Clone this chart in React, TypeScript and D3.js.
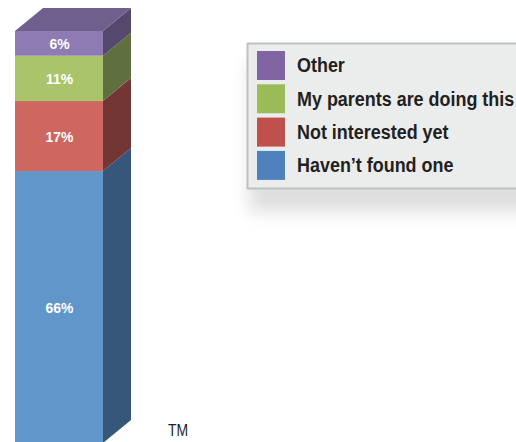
import * as d3 from "d3";

const categories = ["Haven\u2019t found one", "Not interested yet", "My parents are doing this", "Other"];
const values = [66, 17, 11, 6];
const frontColors = ["#6096c9", "#cd675f", "#a9c46b", "#8e7bb4"];
const sideColors = ["#36567a", "#733634", "#5f6f3f", "#54486c"];
const legendColors = ["#4f81bd", "#c0504d", "#9bbb59", "#8064a2"];
const topColor = "#6f5f8c";

const width = 516;
const height = 442;
const font = "'Liberation Sans', Arial, Helvetica, sans-serif";

const App = () => {
  const x0 = 15;
  const barW = 88;
  const dx = 28;
  const dy = 23;
  const y = d3.scaleLinear([0, 100], [443, 31]);

  const stacked = values.map((v, i) => {
    const start = d3.sum(values.slice(0, i));
    return { v, i, y0: y(start), y1: y(start + v) };
  });

  const legendOrder = [3, 2, 1, 0];

  return (
    <svg
      width={width}
      height={height}
      style={{ position: "absolute", left: 0, top: 0, background: "#fff" }}
    >
      <defs>
        <filter id="shadow" x="-20%" y="-20%" width="140%" height="160%">
          <feGaussianBlur stdDeviation="9" />
        </filter>
      </defs>
      {stacked.map((d) => (
        <g key={d.i}>
          <rect x={x0} y={d.y1} width={barW} height={d.y0 - d.y1} fill={frontColors[d.i]} />
          <polygon
            points={[
              [x0 + barW, d.y0],
              [x0 + barW + dx, d.y0 - dy],
              [x0 + barW + dx, d.y1 - dy],
              [x0 + barW, d.y1],
            ].join(" ")}
            fill={sideColors[d.i]}
          />
          <text
            transform={`translate(${x0 + barW / 2 + 0.5}, ${(d.y0 + d.y1) / 2 + 6}) scale(0.9, 1)`}
            textAnchor="middle"
            fill="#fff"
            fontFamily={font}
            fontWeight="bold"
            fontSize={15.5}
          >
            {d.v}%
          </text>
        </g>
      ))}
      <polygon
        points={[
          [x0, y(100)],
          [x0 + barW, y(100)],
          [x0 + barW + dx, y(100) - dy],
          [x0 + dx, y(100) - dy],
        ].join(" ")}
        fill={topColor}
      />

      <rect x={249} y={62} width={290} height={150} fill="#000" opacity={0.13} filter="url(#shadow)" />
      <rect x={247.5} y={43.5} width={290} height={145} fill="#ebecec" stroke="#bfc0c1" strokeWidth={2} />
      {legendOrder.map((i, k) => (
        <g key={i} transform={`translate(257, ${51 + k * 33.3})`}>
          <rect width={28} height={29} fill={legendColors[i]} />
          <text
            transform="translate(40, 21.3) scale(0.855, 1)"
            fill="#231f20"
            fontFamily={font}
            fontWeight="bold"
            fontSize={21}
          >
            {categories[i]}
          </text>
        </g>
      ))}
      <text
        transform="translate(168, 436) scale(0.87, 1)"
        fill="#231f20"
        fontFamily={font}
        fontSize={16}
      >
        TM
      </text>
    </svg>
  );
};

export default App;
